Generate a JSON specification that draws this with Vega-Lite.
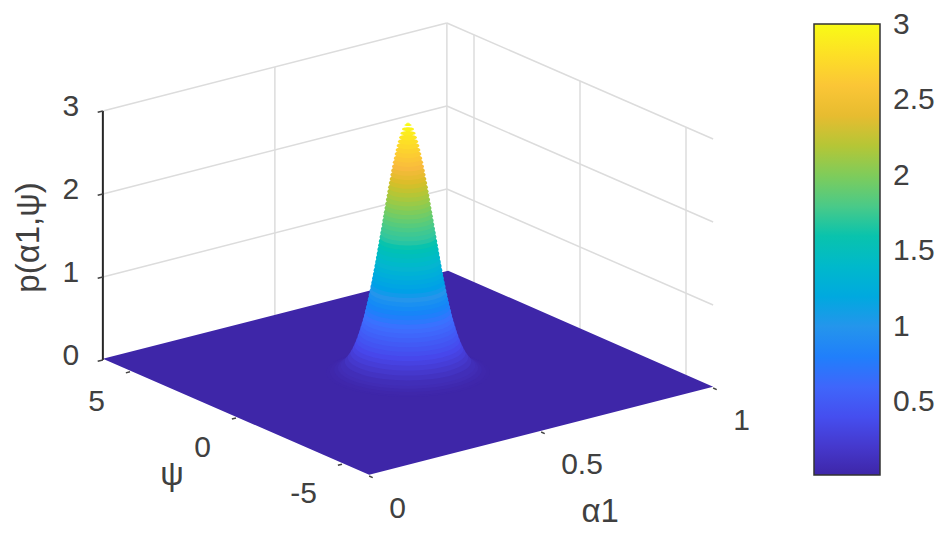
{"$schema":"https://vega.github.io/schema/vega-lite/v6.json","width":944,"height":539,"padding":0,"autosize":"none","background":"white","config":{"view":{"stroke":null}},
"data":{"values":[
{"kind":"grid","a":0,"psi":6.28,"p":1,"a2":1,"psi2":6.28,"p2":1},
{"kind":"grid","a":0,"psi":6.28,"p":2,"a2":1,"psi2":6.28,"p2":2},
{"kind":"grid","a":0,"psi":6.28,"p":3,"a2":1,"psi2":6.28,"p2":3},
{"kind":"grid","a":0.5,"psi":6.28,"p":0,"a2":0.5,"psi2":6.28,"p2":3},
{"kind":"grid","a":1,"psi":6.28,"p":0,"a2":1,"psi2":6.28,"p2":3},
{"kind":"grid","a":1,"psi":6.28,"p":1,"a2":1,"psi2":-6.28,"p2":1},
{"kind":"grid","a":1,"psi":6.28,"p":2,"a2":1,"psi2":-6.28,"p2":2},
{"kind":"grid","a":1,"psi":6.28,"p":3,"a2":1,"psi2":-6.28,"p2":3},
{"kind":"grid","a":1,"psi":5,"p":0,"a2":1,"psi2":5,"p2":3},
{"kind":"grid","a":1,"psi":0,"p":0,"a2":1,"psi2":0,"p2":3},
{"kind":"grid","a":1,"psi":-5,"p":0,"a2":1,"psi2":-5,"p2":3},
{"kind":"floor","a":0,"psi":6.28,"a2":0,"psi2":6.28,"p":0.016,"p2":0.016},
{"kind":"floor","a":0,"psi":-6.28,"a2":0.7703,"psi2":6.28,"p":0.016,"p2":0.016},
{"kind":"floor","a":0.2297,"psi":-6.28,"a2":1,"psi2":6.28,"p":0.016,"p2":0.016},
{"kind":"floor","a":1,"psi":-6.28,"a2":1,"psi2":-6.28,"p":0.016,"p2":0.016},
{"kind":"axis","a":0,"psi":6.28,"p":0,"a2":0,"psi2":6.28,"p2":3},
{"kind":"tick","a":0,"psi":6.28,"p":0,"a2":-0.015,"psi2":6.28,"p2":0},
{"kind":"tick","a":0,"psi":6.28,"p":1,"a2":-0.015,"psi2":6.28,"p2":1},
{"kind":"tick","a":0,"psi":6.28,"p":2,"a2":-0.015,"psi2":6.28,"p2":2},
{"kind":"tick","a":0,"psi":6.28,"p":3,"a2":-0.015,"psi2":6.28,"p2":3},
{"kind":"tick","a":0,"psi":5,"p":0,"a2":-0.012,"psi2":5,"p2":0},
{"kind":"tick","a":0,"psi":0,"p":0,"a2":-0.012,"psi2":0,"p2":0},
{"kind":"tick","a":0,"psi":-5,"p":0,"a2":-0.012,"psi2":-5,"p2":0},
{"kind":"tick","a":0,"psi":-6.28,"p":0,"a2":0,"psi2":-6.45,"p2":0},
{"kind":"tick","a":0.5,"psi":-6.28,"p":0,"a2":0.5,"psi2":-6.45,"p2":0},
{"kind":"tick","a":1,"psi":-6.28,"p":0,"a2":1,"psi2":-6.45,"p2":0},
{"kind":"peak","a":0.5,"psi":0,"p":0.02,"r":0.2375},
{"kind":"peak","a":0.5,"psi":0,"p":0.03,"r":0.2277},
{"kind":"peak","a":0.5,"psi":0,"p":0.05,"r":0.2148},
{"kind":"peak","a":0.5,"psi":0,"p":0.075,"r":0.2039},
{"kind":"peak","a":0.5,"psi":0,"p":0.1,"r":0.1958},
{"kind":"peak","a":0.5,"psi":0,"p":0.15,"r":0.1838},
{"kind":"peak","a":0.5,"psi":0,"p":0.2,"r":0.1748},
{"kind":"peak","a":0.5,"psi":0,"p":0.25,"r":0.1674},
{"kind":"peak","a":0.5,"psi":0,"p":0.3,"r":0.1612},
{"kind":"peak","a":0.5,"psi":0,"p":0.35,"r":0.1557},
{"kind":"peak","a":0.5,"psi":0,"p":0.4,"r":0.1508},
{"kind":"peak","a":0.5,"psi":0,"p":0.45,"r":0.1464},
{"kind":"peak","a":0.5,"psi":0,"p":0.5,"r":0.1423},
{"kind":"peak","a":0.5,"psi":0,"p":0.55,"r":0.1385},
{"kind":"peak","a":0.5,"psi":0,"p":0.6,"r":0.1349},
{"kind":"peak","a":0.5,"psi":0,"p":0.65,"r":0.1315},
{"kind":"peak","a":0.5,"psi":0,"p":0.7,"r":0.1283},
{"kind":"peak","a":0.5,"psi":0,"p":0.75,"r":0.1253},
{"kind":"peak","a":0.5,"psi":0,"p":0.8,"r":0.1223},
{"kind":"peak","a":0.5,"psi":0,"p":0.85,"r":0.1195},
{"kind":"peak","a":0.5,"psi":0,"p":0.9,"r":0.1168},
{"kind":"peak","a":0.5,"psi":0,"p":0.95,"r":0.1142},
{"kind":"peak","a":0.5,"psi":0,"p":1.0,"r":0.1116},
{"kind":"peak","a":0.5,"psi":0,"p":1.05,"r":0.1091},
{"kind":"peak","a":0.5,"psi":0,"p":1.1,"r":0.1067},
{"kind":"peak","a":0.5,"psi":0,"p":1.15,"r":0.1043},
{"kind":"peak","a":0.5,"psi":0,"p":1.2,"r":0.102},
{"kind":"peak","a":0.5,"psi":0,"p":1.25,"r":0.0998},
{"kind":"peak","a":0.5,"psi":0,"p":1.3,"r":0.0975},
{"kind":"peak","a":0.5,"psi":0,"p":1.35,"r":0.0953},
{"kind":"peak","a":0.5,"psi":0,"p":1.4,"r":0.0932},
{"kind":"peak","a":0.5,"psi":0,"p":1.45,"r":0.091},
{"kind":"peak","a":0.5,"psi":0,"p":1.5,"r":0.0889},
{"kind":"peak","a":0.5,"psi":0,"p":1.55,"r":0.0868},
{"kind":"peak","a":0.5,"psi":0,"p":1.6,"r":0.0847},
{"kind":"peak","a":0.5,"psi":0,"p":1.65,"r":0.0827},
{"kind":"peak","a":0.5,"psi":0,"p":1.7,"r":0.0806},
{"kind":"peak","a":0.5,"psi":0,"p":1.75,"r":0.0785},
{"kind":"peak","a":0.5,"psi":0,"p":1.8,"r":0.0765},
{"kind":"peak","a":0.5,"psi":0,"p":1.85,"r":0.0745},
{"kind":"peak","a":0.5,"psi":0,"p":1.9,"r":0.0724},
{"kind":"peak","a":0.5,"psi":0,"p":1.95,"r":0.0704},
{"kind":"peak","a":0.5,"psi":0,"p":2.0,"r":0.0684},
{"kind":"peak","a":0.5,"psi":0,"p":2.05,"r":0.0663},
{"kind":"peak","a":0.5,"psi":0,"p":2.1,"r":0.0642},
{"kind":"peak","a":0.5,"psi":0,"p":2.15,"r":0.0621},
{"kind":"peak","a":0.5,"psi":0,"p":2.2,"r":0.06},
{"kind":"peak","a":0.5,"psi":0,"p":2.25,"r":0.0579},
{"kind":"peak","a":0.5,"psi":0,"p":2.3,"r":0.0557},
{"kind":"peak","a":0.5,"psi":0,"p":2.35,"r":0.0534},
{"kind":"peak","a":0.5,"psi":0,"p":2.4,"r":0.0512},
{"kind":"peak","a":0.5,"psi":0,"p":2.45,"r":0.0489},
{"kind":"peak","a":0.5,"psi":0,"p":2.5,"r":0.0465},
{"kind":"peak","a":0.5,"psi":0,"p":2.55,"r":0.0441},
{"kind":"peak","a":0.5,"psi":0,"p":2.6,"r":0.0415},
{"kind":"peak","a":0.5,"psi":0,"p":2.65,"r":0.0388},
{"kind":"peak","a":0.5,"psi":0,"p":2.7,"r":0.036},
{"kind":"peak","a":0.5,"psi":0,"p":2.75,"r":0.033},
{"kind":"peak","a":0.5,"psi":0,"p":2.8,"r":0.0298},
{"kind":"peak","a":0.5,"psi":0,"p":2.85,"r":0.0262},
{"kind":"peak","a":0.5,"psi":0,"p":2.9,"r":0.0222},
{"kind":"peak","a":0.5,"psi":0,"p":2.95,"r":0.0174},
{"kind":"peak","a":0.5,"psi":0,"p":3.0,"r":0.0106},
{"kind":"peak","a":0.5,"psi":0,"p":3.02,"r":0.0061},
{"kind":"zlabel","label":"0","a":0,"psi":6.28,"p":0},
{"kind":"zlabel","label":"1","a":0,"psi":6.28,"p":1},
{"kind":"zlabel","label":"2","a":0,"psi":6.28,"p":2},
{"kind":"zlabel","label":"3","a":0,"psi":6.28,"p":3},
{"kind":"psilabel","label":"5","a":0,"psi":5,"p":0},
{"kind":"psilabel","label":"0","a":0,"psi":0,"p":0},
{"kind":"psilabel","label":"-5","a":0,"psi":-5,"p":0},
{"kind":"alabel","label":"0","a":0,"psi":-6.28,"p":0},
{"kind":"alabel","label":"0.5","a":0.5,"psi":-6.28,"p":0},
{"kind":"alabel","label":"1","a":1,"psi":-6.28,"p":0},
{"kind":"ztitle","label":"p(α1,ψ)","a":0,"psi":6.28,"p":1.5},
{"kind":"psititle","label":"ψ","a":0,"psi":0,"p":0},
{"kind":"atitle","label":"α1","a":0.5,"psi":-6.28,"p":0}
]},
"transform":[
{"calculate":"236+344*datum.a-21.2*datum.psi","as":"sx"},
{"calculate":"418-88*datum.a-9.24*datum.psi-83*datum.p","as":"sy"},
{"calculate":"236+344*datum.a2-21.2*datum.psi2","as":"sx2"},
{"calculate":"418-88*datum.a2-9.24*datum.psi2-83*datum.p2","as":"sy2"},
{"calculate":"pow(2*344*datum.r,2)","as":"area"}
],
"encoding":{
"x":{"field":"sx","type":"quantitative","axis":null,"scale":{"domain":[0,944]}},
"y":{"field":"sy","type":"quantitative","axis":null,"scale":{"domain":[539,0]}}
},
"layer":[
{"transform":[{"filter":"datum.kind==='grid'"}],"mark":{"type":"rule","color":"#dcdcdc","strokeWidth":1.5},"encoding":{"x2":{"field":"sx2"},"y2":{"field":"sy2"}}},
{"transform":[{"filter":"datum.kind==='floor'"}],"mark":{"type":"area"},"encoding":{"y2":{"field":"sy2"},"color":{"value":"#3E26A8"}}},
{"transform":[{"filter":"datum.kind==='axis'"}],"mark":{"type":"rule","color":"#262626","strokeWidth":2},"encoding":{"x2":{"field":"sx2"},"y2":{"field":"sy2"}}},
{"transform":[{"filter":"datum.kind==='tick'"}],"mark":{"type":"rule","color":"#444444","strokeWidth":1.5},"encoding":{"x2":{"field":"sx2"},"y2":{"field":"sy2"}}},
{"transform":[{"filter":"datum.kind==='peak'"}],"mark":{"type":"point","filled":true,"opacity":1,"strokeWidth":0,"shape":"M-1,0A1,0.3 0 1 1 1,0A1,0.3 0 1 1 -1,0Z"},"encoding":{"size":{"field":"area","type":"quantitative","scale":null},"color":{"field":"p","type":"quantitative","scale":{"domain":[0.016,0.348,0.681,1.013,1.345,1.678,2.01,2.342,2.5,2.675,3.007],"range":["#3E26A8","#4747EB","#3E6FFF","#2796EB","#08B5D0","#31C69F","#81CC59","#DCBD29","#F8BA3D","#FCCF30","#F9FB15"]},"legend":{"type":"gradient","title":null,"orient":"none","legendX":814,"legendY":24,"gradientLength":451,"gradientThickness":66,"gradientStrokeColor":"#333333","gradientStrokeWidth":1.5,"values":[0.5,1,1.5,2,2.5,3],"format":".2~f","labelFontSize":30,"labelFont":"Liberation Sans","labelColor":"#404040","labelOffset":13,"labelOverlap":false,"tickCount":6}}}},
{"transform":[{"filter":"datum.kind==='zlabel'"}],"mark":{"type":"text","font":"Liberation Sans","fontSize":30,"color":"#404040","dx":-32,"dy":-4,"align":"center","baseline":"middle"},"encoding":{"text":{"field":"label"}}},
{"transform":[{"filter":"datum.kind==='psilabel'"}],"mark":{"type":"text","font":"Liberation Sans","fontSize":30,"color":"#404040","dx":-25,"dy":30,"align":"right","baseline":"middle"},"encoding":{"text":{"field":"label"}}},
{"transform":[{"filter":"datum.kind==='alabel'"}],"mark":{"type":"text","font":"Liberation Sans","fontSize":30,"color":"#404040","dx":20,"dy":33,"align":"left","baseline":"middle"},"encoding":{"text":{"field":"label"}}},
{"transform":[{"filter":"datum.kind==='ztitle'"}],"mark":{"type":"text","font":"Liberation Sans","fontSize":33,"color":"#404040","angle":270,"dx":-2,"dy":-74,"align":"center","baseline":"middle"},"encoding":{"text":{"field":"label"}}},
{"transform":[{"filter":"datum.kind==='psititle'"}],"mark":{"type":"text","font":"Liberation Sans","fontSize":33,"color":"#404040","dx":-64,"dy":57,"align":"center","baseline":"middle"},"encoding":{"text":{"field":"label"}}},
{"transform":[{"filter":"datum.kind==='atitle'"}],"mark":{"type":"text","font":"Liberation Sans","fontSize":33,"color":"#404040","dx":59,"dy":80,"align":"center","baseline":"middle"},"encoding":{"text":{"field":"label"}}}
]}
